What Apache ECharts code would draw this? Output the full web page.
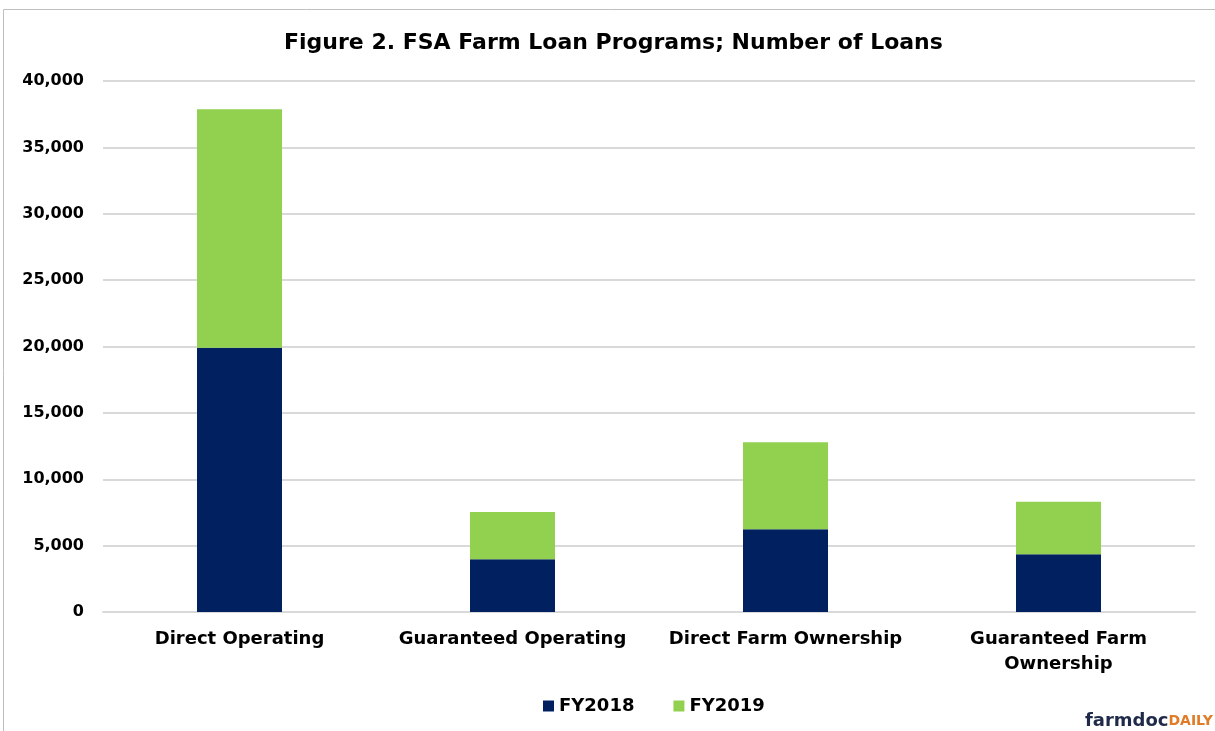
<!DOCTYPE html>
<html><head><meta charset="utf-8">
<script src="https://cdn.jsdelivr.net/npm/echarts@6/dist/echarts.min.js"></script>
<style>html,body{margin:0;padding:0;background:#fff}#c{width:1215px;height:731px}</style>
</head><body><div id="c"></div>
<script>
const categories = ['Direct Operating', 'Guaranteed Operating', 'Direct Farm Ownership', 'Guaranteed Farm\nOwnership'];
const fy2018 = [19900, 3970, 6230, 4350];
const fy2019 = [17970, 3560, 6550, 3960];
const seriesNames = ['FY2018', 'FY2019'];
const colors = ['#002060', '#92D050'];

const chart = echarts.init(document.getElementById('c'), null, {renderer: 'canvas'});
const font = '"DejaVu Sans", "Liberation Sans", Arial, sans-serif';
chart.setOption({
  animation: false,
  textStyle: {fontFamily: font},
  title: {
    text: 'Figure 2. FSA Farm Loan Programs; Number of Loans',
    left: 279, top: 27,
    textStyle: {fontSize: 22, fontWeight: 'bold', color: '#000', fontFamily: font}
  },
  graphic: [
    {type: 'rect', shape: {x: 3.5, y: 9.5, width: 1240, height: 760}, style: {fill: 'none', stroke: '#bfbfbf', lineWidth: 1}, silent: true},
    {type: 'text', right: 2, top: 712, style: {
      text: '{a|farmdoc}{b|DAILY}',
      rich: {
        a: {fontSize: 18, fontWeight: 'bold', fill: '#1f2a4a', fontFamily: font},
        b: {fontSize: 14, fontWeight: 'bold', fill: '#e07b28', fontFamily: font}
      }
    }}
  ],
  legend: {
    bottom: 11, left: 538, itemWidth: 11, itemHeight: 11, itemGap: 39,
    icon: 'rect',
    textStyle: {fontSize: 18, fontWeight: 'bold', color: '#000', fontFamily: font},
    data: seriesNames
  },
  grid: {left: 103, right: 20, top: 81, bottom: 119, containLabel: false},
  xAxis: {
    type: 'category', data: categories,
    axisLine: {lineStyle: {color: '#d9d9d9', width: 2}},
    axisTick: {show: false},
    axisLabel: {fontSize: 18, fontWeight: 'bold', color: '#000', margin: 15, lineHeight: 25, interval: 0}
  },
  yAxis: {
    type: 'value', min: 0, max: 40000, interval: 5000,
    axisLine: {show: false}, axisTick: {show: false},
    splitLine: {lineStyle: {color: '#d9d9d9', width: 2}},
    axisLabel: {fontSize: 16, fontWeight: 'bold', color: '#000', margin: 19,
      formatter: v => v.toLocaleString('en-US')}
  },
  series: [
    {name: seriesNames[0], type: 'bar', stack: 's', data: fy2018, barWidth: 85, itemStyle: {color: colors[0]}},
    {name: seriesNames[1], type: 'bar', stack: 's', data: fy2019, barWidth: 85, itemStyle: {color: colors[1]}}
  ]
});
</script></body></html>
